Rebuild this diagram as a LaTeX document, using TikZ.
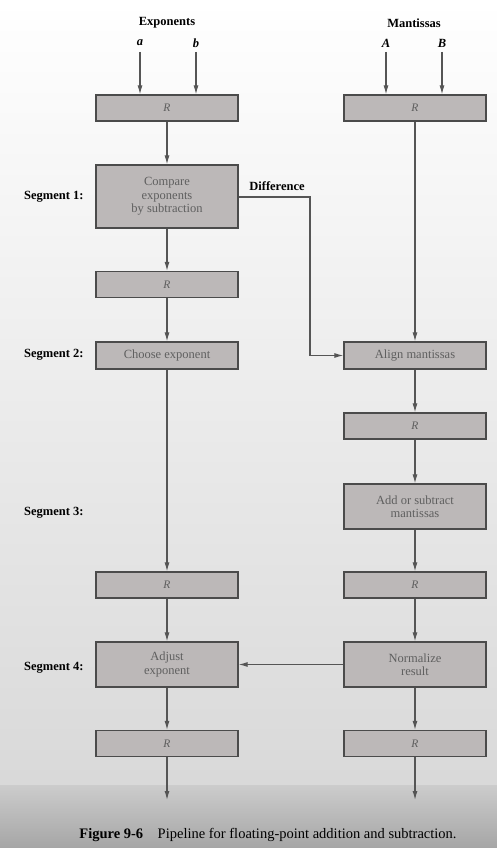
\documentclass[tikz,border=0pt]{standalone}
\usepackage{fontspec}
\setmainfont{Liberation Serif}
\usetikzlibrary{arrows.meta}
\definecolor{boxfill}{RGB}{188,184,184}
\definecolor{boxline}{RGB}{75,75,75}
\definecolor{boxtext}{RGB}{95,95,95}
\definecolor{wire}{RGB}{85,85,85}
\begin{document}
\begin{tikzpicture}
  [x=1pt,y=-1pt,
   reg/.style={draw=boxline,fill=boxfill,line width=1.2pt,minimum width=142pt,minimum height=26pt,inner sep=0pt,text=boxtext,font=\itshape\fontsize{11.5}{12}\selectfont},
   stage/.style={draw=boxline,fill=boxfill,line width=1.2pt,minimum width=142pt,inner sep=0pt,text=boxtext,align=center,font=\fontsize{12.5}{13.5}\selectfont},
   seglabel/.style={anchor=east,font=\bfseries\fontsize{12.5}{14}\selectfont},
   head/.style={font=\bfseries\fontsize{12.5}{14}\selectfont},
   flow/.style={draw=wire,line width=1.1pt,-{Latex[length=9pt,width=5pt]}}]
% background
\shade[top color=white,bottom color=gray!30] (0,0) rectangle (497,785);
\shade[top color=gray!40,bottom color=gray!70] (0,785) rectangle (497,848);
\useasboundingbox (0,0) rectangle (497,848);

% headings and inputs
\node (hexp) [head] at (167,23) {Exponents};
\node (hman) [head] at (414,23) {Mantissas};
\node (la) [head] at (140,43) {\itshape a};
\node (lb) [head] at (196,43) {\itshape b};
\node (lA) [head] at (386,43) {\itshape A};
\node (lB) [head] at (442,43) {\itshape B};
\coordinate (ina) at (140,52);
\coordinate (inb) at (196,52);
\coordinate (inA) at (386,52);
\coordinate (inB) at (442,52);

% left column
\node (rexp) [reg] at (167,108) {R};
\node (cmp) [stage,minimum height=63pt] at (167,196.5) {Compare\\exponents\\by subtraction};
\node (rexp2) [reg] at (167,284.5) {R};
\node (choose) [stage,minimum height=27pt] at (167,355.5) {Choose exponent};
\node (rexp3) [reg] at (167,585) {R};
\node (adjust) [stage,minimum height=45pt] at (167,664.5) {Adjust\\exponent};
\node (rexp4) [reg] at (167,743.5) {R};
\coordinate (outexp) at (167,800);

% right column
\node (rman) [reg] at (415,108) {R};
\node (align) [stage,minimum height=27pt] at (415,355.5) {Align mantissas};
\node (rman2) [reg] at (415,426) {R};
\node (addsub) [stage,minimum height=45pt] at (415,506.5) {Add or subtract\\mantissas};
\node (rman3) [reg] at (415,585) {R};
\node (norm) [stage,minimum height=45pt] at (415,664.5) {Normalize\\result};
\node (rman4) [reg] at (415,743.5) {R};
\coordinate (outman) at (415,800);

% segment labels
\node (seg1) [seglabel] at (87,197) {Segment 1:};
\node (seg2) [seglabel] at (87,355) {Segment 2:};
\node (seg3) [seglabel] at (87,513) {Segment 3:};
\node (seg4) [seglabel] at (87,668) {Segment 4:};

% connections
\foreach \from/\to in {ina/rexp.north-|ina,inb/rexp.north-|inb,inA/rman.north-|inA,inB/rman.north-|inB}
  \draw[flow] (\from) -- (\to);
\foreach \from/\to in {rexp/cmp,cmp/rexp2,rexp2/choose,choose/rexp3,rexp3/adjust,rman/align,align/rman2,rman2/addsub,addsub/rman3,rman3/norm}
  \draw[flow] (\from) -- (\to);
\draw[flow] (rexp4) -- (outexp);
\draw[flow] (rman4) -- (outman);
\draw[flow] (adjust) -- (rexp4);
\draw[flow] (norm) -- (rman4);
\draw[flow] (norm) -- (adjust);
\coordinate (bend) at (310,197);
\draw[flow] (cmp.east|-bend) -- (bend) |- (align);
\node (diff) [head,anchor=south] at (277,194) {Difference};

% caption
\node (cap) at (268,835) {\fontsize{14.5}{16}\selectfont\textbf{Figure 9-6}\quad Pipeline for floating-point addition and subtraction.};
\end{tikzpicture}
\end{document}
